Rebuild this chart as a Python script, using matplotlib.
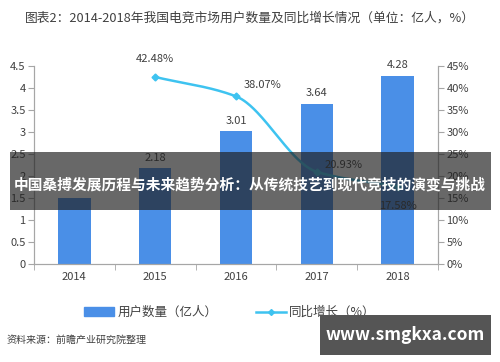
import matplotlib.pyplot as plt
from matplotlib.patches import Rectangle
from matplotlib.lines import Line2D
import numpy as np

plt.rcParams['font.family'] = ['Noto Sans CJK SC', 'DejaVu Sans']

years = ["2014", "2015", "2016", "2017", "2018"]
users = [1.5, 2.18, 3.01, 3.64, 4.28]
growth_years = ["2015", "2016", "2017", "2018"]
growth = [42.48, 38.07, 20.93, 17.58]

bar_color = "#4A8FE7"
line_color = "#3EC3F0"
axis_color = "#A6A6A6"
text_color = "#404040"

fig = plt.figure(figsize=(5, 3.62), dpi=100)
ax = fig.add_axes([0.068, 0.271, 0.808, 0.547])
ax2 = ax.twinx()

x = np.arange(len(years))
ax.bar(x, users, width=0.4, color=bar_color, zorder=2)
for xi, v in zip(x, users):
    if v != users[0]:
        ax.text(xi, v + 0.12, f"{v:.2f}", ha="center", va="bottom", fontsize=8, color=text_color)

gx = np.array([years.index(y) for y in growth_years], dtype=float)
# smooth curve through the points (monotone cubic)
xs = np.linspace(gx[0], gx[-1], 200)
d = np.diff(growth) / np.diff(gx)
m = np.zeros(len(gx))
m[0], m[-1] = d[0], d[-1]
for i in range(1, len(gx) - 1):
    m[i] = 0 if d[i - 1] * d[i] <= 0 else 2 / (1 / d[i - 1] + 1 / d[i])
ys = np.empty_like(xs)
for k, xv in enumerate(xs):
    i = min(int(np.floor(xv - gx[0])), len(gx) - 2)
    h = gx[i + 1] - gx[i]
    t = (xv - gx[i]) / h
    h00 = 2 * t**3 - 3 * t**2 + 1
    h10 = t**3 - 2 * t**2 + t
    h01 = -2 * t**3 + 3 * t**2
    h11 = t**3 - t**2
    ys[k] = h00 * growth[i] + h10 * h * m[i] + h01 * growth[i + 1] + h11 * h * m[i + 1]
ax2.plot(xs, ys, color=line_color, lw=1.8, zorder=3)
ax2.plot(gx, growth, ls="none", marker="D", ms=3.5, color=line_color, zorder=3)

label_off = [(0, 4.0, "center"), (0.1, 2.5, "left"), (0.1, 1.5, "left"), (0, -4.5, "center")]
for xi, v, (dx, dy, ha) in zip(gx, growth, label_off):
    ax2.text(xi + dx, v + dy, f"{v:.2f}%", ha=ha, va="center", fontsize=8, color=text_color)

ax.set_xlim(-0.5, 4.5)
ax.set_ylim(0, 4.5)
ax2.set_ylim(0, 45)
ax.set_yticks(np.arange(0, 4.51, 0.5))
ax.set_yticklabels(["0", "0.5", "1", "1.5", "2", "2.5", "3", "3.5", "4", "4.5"])
ax2.set_yticks(np.arange(0, 46, 5))
ax2.set_yticklabels([f"{v}%" for v in range(0, 46, 5)])
ax.set_xticks(x)
ax.set_xticklabels(years)
ax.set_xticks(np.arange(-0.5, 4.6, 1), minor=True)
ax.tick_params(axis="x", which="major", length=0, pad=6, labelsize=8, colors=text_color)
ax.tick_params(axis="x", which="minor", length=4, color=axis_color)
ax.tick_params(axis="y", length=4, color=axis_color, labelsize=8, labelcolor=text_color, pad=2)
ax2.tick_params(axis="y", length=4, color=axis_color, labelsize=8, labelcolor=text_color, pad=2)
for a in (ax, ax2):
    a.spines["top"].set_visible(False)
    for s in ("left", "right", "bottom"):
        a.spines[s].set_color(axis_color)
        a.spines[s].set_linewidth(0.8)

fig.text(0.05, 0.95, "图表2：2014-2018年我国电竞市场用户数量及同比增长情况（单位：亿人，%）",
         fontsize=9.2, color=text_color, va="center", ha="left")

# legend
handles = [Rectangle((0, 0), 1, 1, color=bar_color),
           Line2D([0], [0], color=line_color, lw=1.8, marker="D", ms=3)]
fig.legend(handles, ["用户数量（亿人）", "同比增长（%）"], loc="center", bbox_to_anchor=(0.46, 0.137),
           ncol=2, frameon=False, fontsize=9, handlelength=2.4, handleheight=0.7,
           columnspacing=3.0, handletextpad=0.3, labelcolor=text_color)

fig.text(0.014, 0.06, "资料来源：前瞻产业研究院整理", fontsize=7.2, style="italic",
         color=text_color, va="center")

# overlay banner
fig.patches.append(Rectangle((0.02, 0.42), 0.962, 0.16, transform=fig.transFigure,
                             facecolor="#202020", alpha=0.68, zorder=10))
fig.text(0.5, 0.49, "中国桑搏发展历程与未来趋势分析：从传统技艺到现代竞技的演变与挑战",
         fontsize=10.6, fontweight="bold", color="white", ha="center", va="center", zorder=11)

# watermark box
fig.patches.append(Rectangle((0.64, 0.02), 0.342, 0.11, transform=fig.transFigure,
                             facecolor="#555555", zorder=10))
fig.text(0.81, 0.075, "www.smgkxa.com", fontsize=12.5, fontweight="bold", color="white",
         ha="center", va="center", zorder=11)

fig.savefig("out.png", dpi=100)
